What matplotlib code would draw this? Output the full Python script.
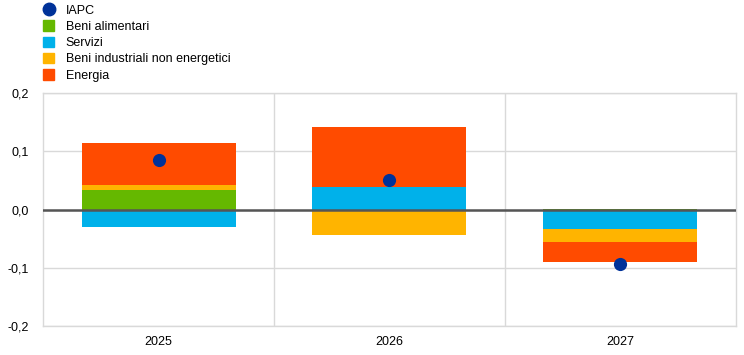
import numpy as np
import matplotlib
matplotlib.use("Agg")
import matplotlib.pyplot as plt
from matplotlib.lines import Line2D
from matplotlib.patches import Patch

plt.rcParams['font.family'] = ['Liberation Sans', 'DejaVu Sans']
plt.rcParams['font.size'] = 9

years = ["2025", "2026", "2027"]
iapc = [0.085, 0.050, -0.094]
food = [0.034, 0.000, 0.001]
services = [-0.029, 0.039, -0.033]
goods = [0.009, -0.044, -0.022]
energy = [0.072, 0.102, -0.035]

names = ["Beni alimentari", "Servizi", "Beni industriali non energetici", "Energia"]
colors = ["#65B800", "#00B1EA", "#FFB400", "#FF4B00"]
dot_color = "#003299"

fig = plt.figure(figsize=(7.44, 3.55), dpi=100)
ax = fig.add_axes([0.058, 0.081, 0.931, 0.657])

x = np.arange(len(years))
pos = np.zeros(len(years))
neg = np.zeros(len(years))
for vals, c in zip([food, services, goods, energy], colors):
    vals = np.array(vals)
    bottom = np.where(vals >= 0, pos, neg)
    ax.bar(x, vals, width=0.667, bottom=bottom, color=c, zorder=2)
    pos = pos + np.where(vals >= 0, vals, 0)
    neg = neg + np.where(vals < 0, vals, 0)

ax.scatter(x, iapc, s=90, color=dot_color, zorder=4, linewidths=0)
ax.axhline(0, color="#555555", lw=1.8, zorder=3)

ax.set_xlim(-0.5, 2.5)
ax.set_ylim(-0.2, 0.2)
ax.set_yticks([-0.2, -0.1, 0.0, 0.1, 0.2])
ax.set_yticklabels([f"{v:.1f}".replace(".", ",") for v in [-0.2, -0.1, 0.0, 0.1, 0.2]])
ax.set_xticks(x)
ax.set_xticklabels(years)
ax.tick_params(length=0, pad=7, labelsize=9)
ax.tick_params(axis="y", pad=10)
ax.grid(axis="y", color="#D9D9D9", lw=1, zorder=0)
for b in [0.5, 1.5]:
    ax.axvline(b, color="#D9D9D9", lw=1, zorder=0)
for s in ax.spines.values():
    s.set_color("#D9D9D9")
    s.set_linewidth(1)

handles = [Line2D([], [], marker="o", ls="", color=dot_color, markersize=9)]
handles += [Patch(color=c) for c in colors]
fig.legend(handles, ["IAPC"] + names, loc="upper left", bbox_to_anchor=(0.043, 1.02),
           frameon=False, handlelength=0.9, handleheight=0.9, handletextpad=0.9,
           labelspacing=0.3, fontsize=9)

fig.savefig("out.png", dpi=100)
